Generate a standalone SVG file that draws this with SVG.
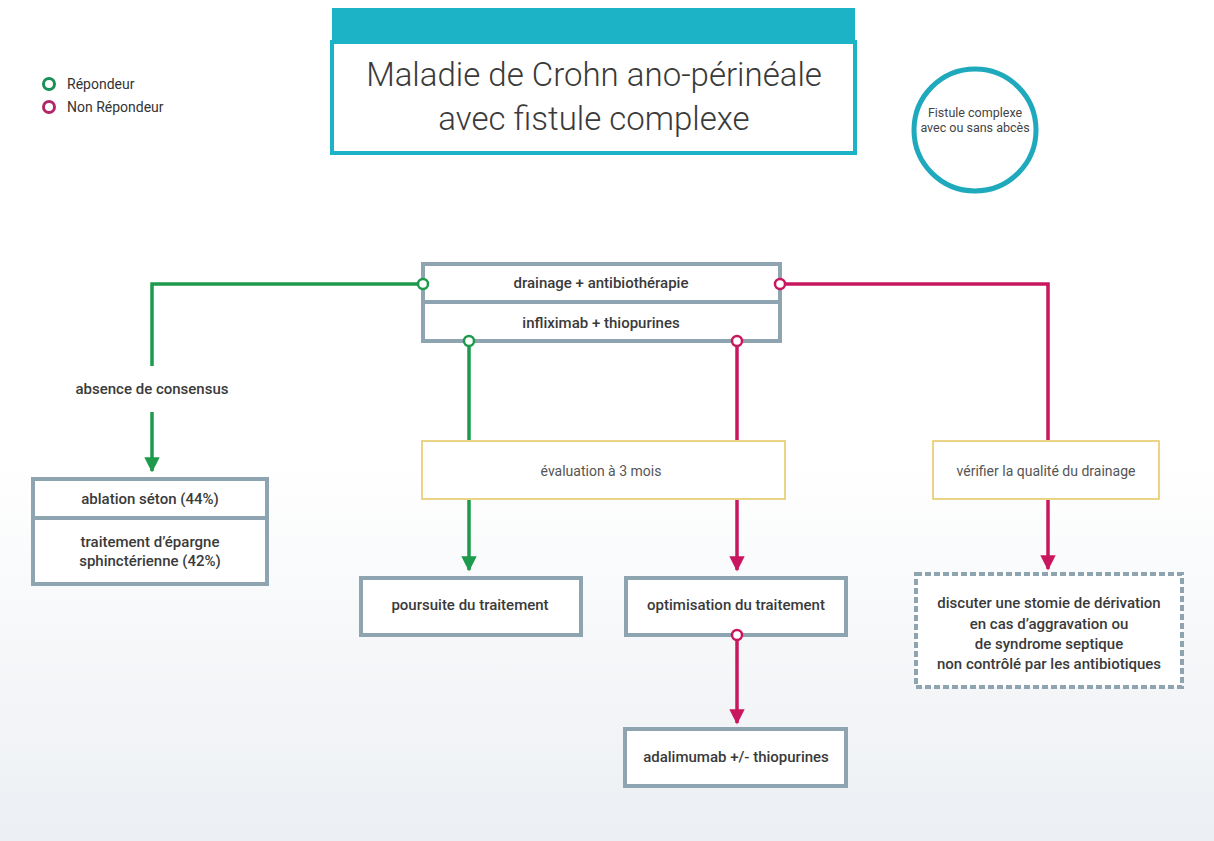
<svg xmlns="http://www.w3.org/2000/svg" width="1214" height="841" viewBox="0 0 1214 841">
<defs>
<linearGradient id="bg" x1="0" y1="0" x2="0" y2="1">
<stop offset="0" stop-color="#ffffff"/>
<stop offset="0.55" stop-color="#ffffff"/>
<stop offset="1" stop-color="#eceff3"/>
</linearGradient>
<marker id="ag" viewBox="0 0 10 10" refX="9" refY="5" markerWidth="4.4" markerHeight="4.4" markerUnits="strokeWidth" orient="auto">
<path d="M0,0 L10,5 L0,10 z" fill="#1d9a4c"/>
</marker>
<marker id="am" viewBox="0 0 10 10" refX="9" refY="5" markerWidth="4.4" markerHeight="4.4" markerUnits="strokeWidth" orient="auto">
<path d="M0,0 L10,5 L0,10 z" fill="#c8175e"/>
</marker>
</defs>
<style>
.box{fill:#ffffff;stroke:#8ea5b1;stroke-width:4}
.dash{fill:#ffffff;stroke:#8ea5b1;stroke-width:4;stroke-dasharray:6 3}
.ybox{fill:#ffffff;stroke:#e5c65e;stroke-width:1.5}
.t{font-family:Roboto,"Liberation Sans",sans-serif;font-size:15px;font-weight:500;fill:#3a3a3a;text-anchor:middle}
.tn{font-family:Roboto,"Liberation Sans",sans-serif;font-size:14px;font-weight:400;fill:#555555;text-anchor:middle}
.g{fill:none;stroke:#1d9a4c;stroke-width:3.5}
.m{fill:none;stroke:#c8175e;stroke-width:3.5}
.gc{fill:#ffffff;stroke:#1d9a4c;stroke-width:2.5}
.mc{fill:#ffffff;stroke:#c8175e;stroke-width:2.5}
.lg{font-family:Roboto,"Liberation Sans",sans-serif;font-size:14px;fill:#333333}
</style>
<rect x="0" y="0" width="1214" height="841" fill="url(#bg)"/>

<g id="legend">
<circle cx="49" cy="84" r="5.5" fill="#ffffff" stroke="#1b8f5a" stroke-width="3"/>
<text class="lg" x="67" y="89">Répondeur</text>
<circle cx="49" cy="107" r="5.5" fill="#ffffff" stroke="#b3276a" stroke-width="3"/>
<text class="lg" x="67" y="112">Non Répondeur</text>
</g>

<g id="title">
<rect x="332" y="42" width="523" height="111" fill="#ffffff" stroke="#1db3c6" stroke-width="4"/>
<rect x="332" y="8" width="523" height="35" fill="#1db3c6"/>
<text x="594" y="86" text-anchor="middle" font-family="Roboto,'Liberation Sans',sans-serif" font-weight="300" font-size="33" fill="#3a3a3a">Maladie de Crohn ano-périnéale</text>
<text x="594" y="130" text-anchor="middle" font-family="Roboto,'Liberation Sans',sans-serif" font-weight="300" font-size="33" fill="#3a3a3a">avec fistule complexe</text>
</g>

<g id="fistule">
<circle cx="975" cy="130" r="61" fill="#ffffff" stroke="#1fa9bc" stroke-width="5"/>
<text x="975" y="117" text-anchor="middle" font-family="Roboto,'Liberation Sans',sans-serif" font-size="12.5" fill="#444">Fistule complexe</text>
<text x="975" y="132" text-anchor="middle" font-family="Roboto,'Liberation Sans',sans-serif" font-size="12.5" fill="#444">avec ou sans abcès</text>
</g>

<g id="connectors">
<path class="g" d="M421,284 H152 V366"/>
<path class="g" d="M152,412 V471" marker-end="url(#ag)"/>
<path class="g" d="M469,346 V440"/>
<path class="g" d="M469,500 V570" marker-end="url(#ag)"/>
<path class="m" d="M737,346 V440"/>
<path class="m" d="M737,500 V570" marker-end="url(#am)"/>
<path class="m" d="M783,284 H1048 V440"/>
<path class="m" d="M1048,500 V569" marker-end="url(#am)"/>
<path class="m" d="M737,638 V723" marker-end="url(#am)"/>
</g>

<g id="top-box">
<rect class="box" x="423" y="264" width="357" height="77"/>
<line x1="423" y1="302" x2="780" y2="302" stroke="#8ea5b1" stroke-width="4"/>
<text class="t" x="601" y="288">drainage + antibiothérapie</text>
<text class="t" x="601" y="328">infliximab + thiopurines</text>
<circle class="gc" cx="423" cy="284" r="5"/>
<circle class="mc" cx="780" cy="284" r="5"/>
<circle class="gc" cx="469" cy="341" r="5"/>
<circle class="mc" cx="737" cy="341" r="5"/>
</g>

<g id="consensus-label">
<text class="t" x="152" y="394">absence de consensus</text>
</g>

<g id="ablation">
<rect class="box" x="33" y="479" width="234" height="105"/>
<line x1="33" y1="518" x2="267" y2="518" stroke="#8ea5b1" stroke-width="4"/>
<text class="t" x="150" y="504">ablation séton (44%)</text>
<text class="t" x="150" y="547">traitement d’épargne</text>
<text class="t" x="150" y="566">sphinctérienne (42%)</text>
</g>

<g id="evaluation">
<rect class="ybox" x="422" y="441" width="363" height="58"/>
<text class="tn" x="601" y="476">évaluation à 3 mois</text>
</g>

<g id="verifier">
<rect class="ybox" x="933" y="441" width="226" height="58"/>
<text class="tn" x="1046" y="476">vérifier la qualité du drainage</text>
</g>

<g id="poursuite">
<rect class="box" x="361" y="578" width="220" height="57"/>
<text class="t" x="470" y="610">poursuite du traitement</text>
</g>

<g id="optimisation">
<rect class="box" x="626" y="578" width="220" height="57"/>
<text class="t" x="736" y="610">optimisation du traitement</text>
<circle class="mc" cx="737" cy="635" r="5"/>
</g>

<g id="adalimumab">
<rect class="box" x="625" y="729" width="221" height="57"/>
<text class="t" x="736" y="762">adalimumab +/- thiopurines</text>
</g>

<g id="stomie">
<rect class="dash" x="916" y="574" width="266" height="113"/>
<text class="t" x="1049" y="608">discuter une stomie de dérivation</text>
<text class="t" x="1049" y="629">en cas d’aggravation ou</text>
<text class="t" x="1049" y="649">de syndrome septique</text>
<text class="t" x="1049" y="669">non contrôlé par les antibiotiques</text>
</g>
</svg>
